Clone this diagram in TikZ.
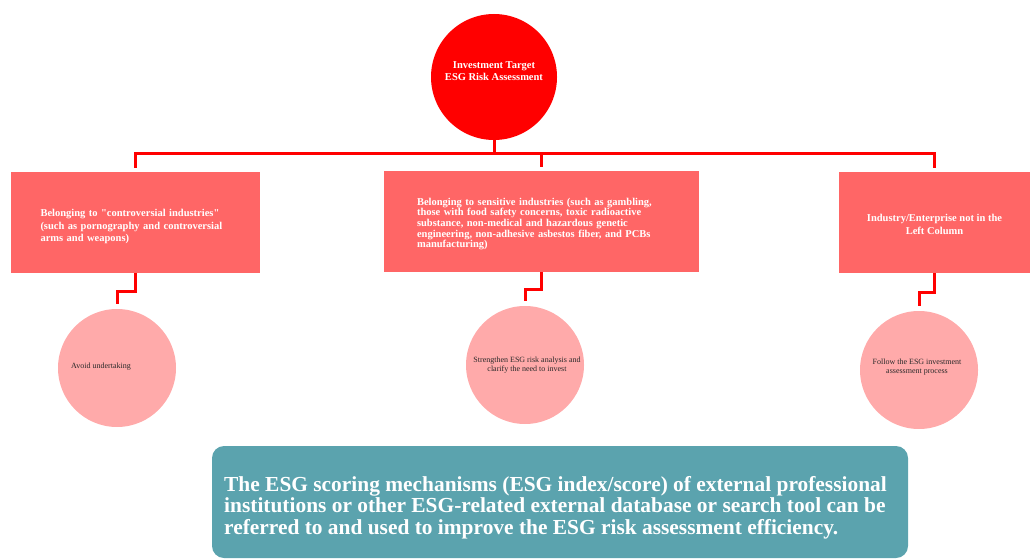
\documentclass[tikz,border=0pt]{standalone}
\usepackage{fontspec}
\setmainfont{Liberation Serif}[Ligatures=TeXOff]
\usetikzlibrary{calc}
\definecolor{topred}{HTML}{FF0000}
\definecolor{boxred}{HTML}{FF6666}
\definecolor{circpink}{HTML}{FFAAAA}
\definecolor{noteteal}{HTML}{5BA3AE}
\definecolor{darktext}{HTML}{2A2A2A}
\tikzset{
  conn/.style={draw=topred, line width=3pt},
  catbox/.style={rectangle, fill=boxred, draw=none, minimum height=101pt, inner sep=0pt},
  cattext/.style={text=white, font=\fontsize{10.5}{12.3}\selectfont\bfseries, inner sep=0pt},
  outcome/.style={circle, fill=circpink, draw=none, minimum size=118pt, inner sep=0pt},
  outtext/.style={text=darktext, font=\fontsize{8}{8.4}\selectfont, inner sep=0pt},
}
\begin{document}
\begin{tikzpicture}[x=1pt, y=-1pt]
\useasboundingbox (0,0) rectangle (1030,559);
% top circle
\node[circle, fill=topred, minimum size=126pt, inner sep=0pt] (top) at (494,77) {};
\node[text=white, font=\fontsize{10.5}{12}\selectfont\bfseries, align=center, inner sep=0pt] (toptext) at (494,71.5)
  {Investment Target\\ESG Risk Assessment};
% category boxes
\node[catbox, minimum width=249pt] (b1) at (135.5,222.5) {};
\node[cattext, text width=190pt, align=left] (b1t) at (135.5,226.5)
  {Belonging to "controversial industries"\\(such as pornography and controversial\\arms and weapons)};
\node[catbox, minimum width=315pt] (b2) at (541.5,221.5) {};
\node[cattext, text width=249pt, align=left, font=\fontsize{10.5}{10.7}\selectfont\bfseries] (b2t) at (541.5,224)
  {Belonging to sensitive industries (such as gambling,\\those with food safety concerns, toxic radioactive\\substance, non-medical and hazardous genetic\\engineering, non-adhesive asbestos fiber, and PCBs\\manufacturing)};
\node[catbox, minimum width=191pt] (b3) at (934.5,222.5) {};
\node[cattext, align=center] (b3t) at (934.5,224.5)
  {Industry/Enterprise not in the\\Left Column};
% outcome circles
\node[outcome] (c1) at (117,368) {};
\node[outtext, anchor=west] (t1) at (71,367) {Avoid undertaking};
\node[outcome] (c2) at (525,365) {};
\node[outtext, align=center] (t2) at (527,365) {Strengthen ESG risk analysis and\\clarify the need to invest};
\node[outcome] (c3) at (919,370) {};
\node[outtext, align=center] (t3) at (917,367) {Follow the ESG investment\\assessment process};
% connectors
\coordinate (bus) at (494,153);
\draw[conn] (top.south) -- (bus);
\draw[conn, shorten >=4pt] (bus) -| (b1.north);
\draw[conn, shorten >=4pt] (bus) -| (b2.north);
\draw[conn, shorten >=4pt] (bus) -| (b3.north);
\draw[conn, shorten >=5pt] (b1.south) |- ($(b1.south)!0.5!(c1.north)$) -| (c1.north);
\draw[conn, shorten >=5pt] (b2.south) |- ($(b2.south)!0.5!(c2.north)$) -| (c2.north);
\draw[conn, shorten >=5pt] (b3.south) |- ($(b3.south)!0.5!(c3.north)$) -| (c3.north);
% bottom note
\node[rectangle, rounded corners=12pt, fill=noteteal, minimum width=696pt, minimum height=112pt, inner sep=0pt] (note) at (560,502) {};
\node[text=white, font=\fontsize{21.4}{21.5}\selectfont\bfseries, align=left, anchor=west, inner sep=0pt] (notetext) at (224,507.5)
  {The ESG scoring mechanisms (ESG index/score) of external professional\\institutions or other ESG-related external database or search tool can be\\referred to and used to improve the ESG risk assessment efficiency.};
\end{tikzpicture}
\end{document}
